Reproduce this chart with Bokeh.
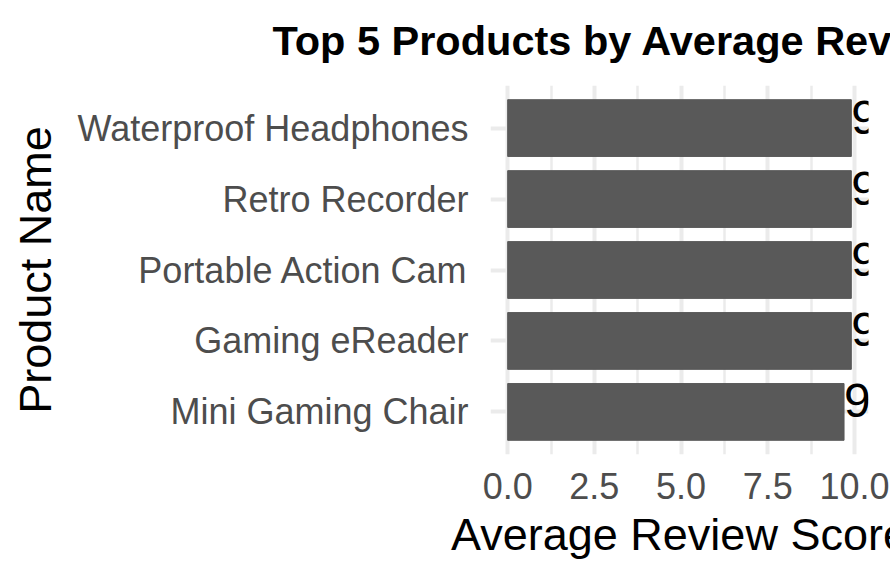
from bokeh.plotting import figure
from bokeh.layouts import column
from bokeh.models import FactorRange, Range1d, FixedTicker, PrintfTickFormatter, ColumnDataSource
from bokeh.embed import file_html
from bokeh.resources import INLINE

# Data (top to bottom as shown)
products = ["Waterproof Headphones", "Retro Recorder", "Portable Action Cam",
            "Gaming eReader", "Mini Gaming Chair"]
avg_scores = [9.91, 9.91, 9.91, 9.91, 9.70]
x_ticks = [0.0, 2.5, 5.0, 7.5, 10.0]
x_minor = [1.25, 3.75, 6.25, 8.75]
title_text = "Top 5 Products by Average Review Score"
x_title = "Average Review Score"
y_title = "Product Name"

FONT = "Liberation Sans"
factors = list(reversed(products))
vals = list(reversed(avg_scores))
labels = [f"{v:.2f}" for v in vals]
src = ColumnDataSource(dict(y=factors, x=vals, lab=labels))

W, H = 890, 587
BL, BR, BT, BB = 490, 22, 85, 133

# --- title strip (a figure whose only content is its title, centred over the panel)
t = figure(width=W, height=BT, output_backend="svg", toolbar_location=None,
           title=title_text, min_border_left=BL, min_border_right=BR,
           min_border_top=0, min_border_bottom=0)
t.title.align = "center"
t.title.vertical_align = "top"
t.title.standoff = 32
t.title.text_font = FONT
t.title.text_font_style = "bold"
t.title.text_font_size = "41.5px"
t.title.text_color = "black"
t.xaxis.visible = False
t.yaxis.visible = False
t.xgrid.visible = False
t.ygrid.visible = False
t.outline_line_color = None
t.background_fill_color = "white"
t.border_fill_color = "white"

# --- main chart
vmax = max(avg_scores)
p = figure(width=W, height=H - BT, output_backend="svg", toolbar_location=None,
           y_range=FactorRange(factors=factors, range_padding=0.1, range_padding_units="absolute"),
           x_range=Range1d(-0.05 * vmax, vmax * 1.05),
           min_border_left=BL, min_border_right=BR, min_border_top=0, min_border_bottom=BB)
p.outline_line_color = None
p.background_fill_color = "white"
p.border_fill_color = "white"

p.hbar(y="y", left=0, right="x", height=0.8, color="#595959", source=src)
p.text(x="x", y="y", text="lab", source=src, x_offset=0, y_offset=-11,
       text_align="left", text_baseline="middle", text_font_size="48px",
       text_font={"value": FONT}, text_color="black")

xa = p.xaxis[0]
xa.ticker = FixedTicker(ticks=x_ticks, minor_ticks=x_minor)
xa.formatter = PrintfTickFormatter(format="%.1f")
xa.axis_label = x_title
for ax in (p.xaxis[0], p.yaxis[0]):
    ax.axis_line_color = None
    ax.major_tick_line_color = None
    ax.minor_tick_line_color = None
    ax.major_tick_out = 0
    ax.major_tick_in = 0
    ax.minor_tick_out = 0
    ax.minor_tick_in = 0
    ax.major_label_text_font = FONT
    ax.major_label_text_font_size = "36px"
    ax.major_label_text_color = "#4D4D4D"
    ax.axis_label_text_font = FONT
    ax.axis_label_text_font_size = "45px"
    ax.axis_label_text_font_style = "normal"
    ax.axis_label_text_color = "black"
xa.major_label_standoff = 18
xa.axis_label_standoff = 7
ya = p.yaxis[0]
ya.axis_label = y_title
ya.major_label_standoff = 22
ya.axis_label_standoff = 14

p.xgrid.grid_line_color = "#EBEBEB"
p.xgrid.grid_line_width = 4
p.xgrid.minor_grid_line_color = "#EBEBEB"
p.xgrid.minor_grid_line_width = 2.5
p.ygrid.grid_line_color = "#EBEBEB"
p.ygrid.grid_line_width = 4
p.xgrid.level = "underlay"
p.ygrid.level = "underlay"

layout = column(t, p, spacing=0)
open("out.html", "w").write(file_html(layout, INLINE))
